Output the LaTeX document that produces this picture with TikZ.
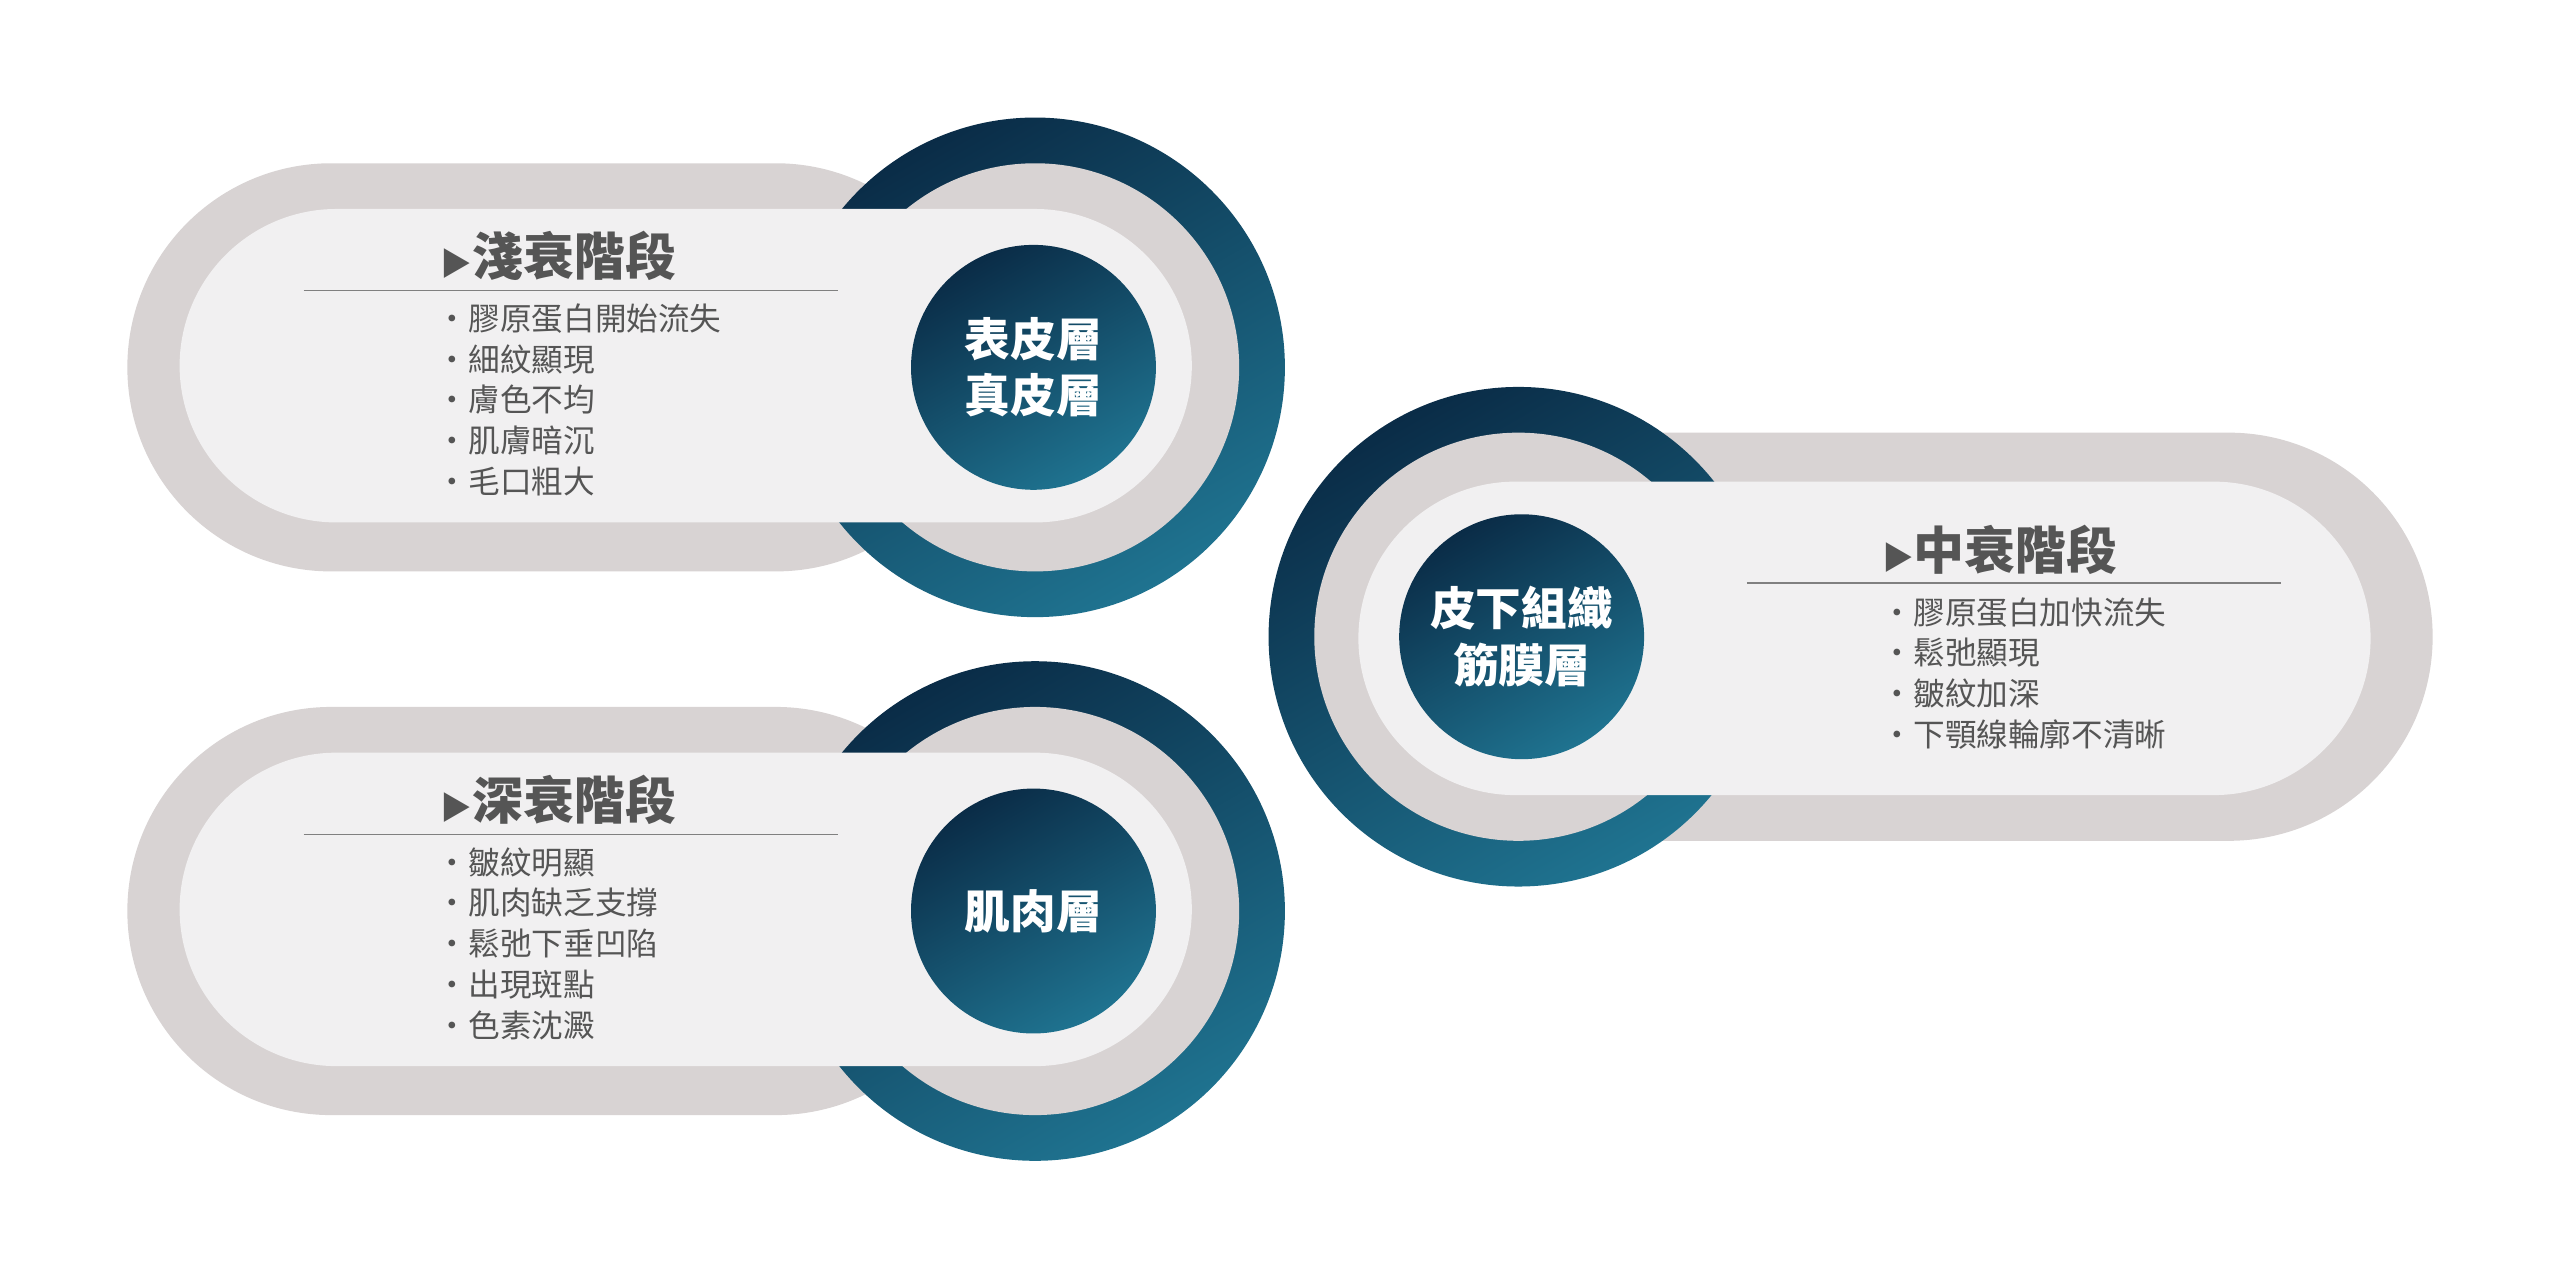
\documentclass[tikz,border=0pt]{standalone}
\usepackage{fontspec}
\setmainfont{Noto Sans CJK TC}
\definecolor{cardout}{HTML}{D8D3D3}
\definecolor{cardin}{HTML}{F1F0F1}
\definecolor{tealdark}{HTML}{0A2C47}
\definecolor{teallight}{HTML}{1F7390}
\definecolor{txt}{HTML}{555555}
\tikzset{
  outercard/.style={fill=cardout, rounded corners=2.04cm},
  innercard/.style={fill=cardin, rounded corners=1.57cm},
  ringshade/.style={shading=axis, top color=tealdark, bottom color=teallight, shading angle=30},
  coretext/.style={text=white, font=\bfseries\fontsize{13}{16}\selectfont, align=center},
  headtext/.style={text=txt, font=\bfseries\fontsize{14.5}{17}\selectfont},
  itemtext/.style={text=txt, font=\fontsize{9}{11}\selectfont, anchor=west}
}
\begin{document}
\begin{tikzpicture}[x=0.01633cm, y=-0.01633cm]
\useasboundingbox[fill=white] (0,0) rectangle (1568,782);
% left top panel
\fill[outercard] (78,100) rectangle (600,350);
\shade[ringshade] (634,225) circle (153);
\fill[cardout] (634,225) circle (125);
\fill[innercard] (110,128) rectangle (730,320);
\shade[ringshade] (633,225) circle (75);
\node[coretext] (core1) at (633,225) {表皮層\\真皮層};
\node[headtext] (head1) at (342,157) {{\small ▶}淺衰階段};
\draw[gray] (186,178) -- (513,178);
\foreach \t [count=\i] in {膠原蛋白開始流失, 細紋顯現, 膚色不均, 肌膚暗沉, 毛口粗大}
  \node[itemtext] (itemA\i) at (260,170+25*\i) {·\t};
% left bottom panel
\fill[outercard] (78,433) rectangle (600,683);
\shade[ringshade] (634,558) circle (153);
\fill[cardout] (634,558) circle (125);
\fill[innercard] (110,461) rectangle (730,653);
\shade[ringshade] (633,558) circle (75);
\node[coretext] (core3) at (633,558) {肌肉層};
\node[headtext] (head3) at (342,490) {{\small ▶}深衰階段};
\draw[gray] (186,511) -- (513,511);
\foreach \t [count=\i] in {皺紋明顯, 肌肉缺乏支撐, 鬆弛下垂凹陷, 出現斑點, 色素沈澱}
  \node[itemtext] (itemC\i) at (260,503+25*\i) {·\t};
% right panel
\fill[outercard] (860,265) rectangle (1490,515);
\shade[ringshade] (930,390) circle (153);
\fill[cardout] (930,390) circle (125);
\fill[innercard] (832,295) rectangle (1452,487);
\shade[ringshade] (932,390) circle (75);
\node[coretext] (core2) at (932,390) {皮下組織\\筋膜層};
\node[headtext] (head2) at (1225,337) {{\small ▶}中衰階段};
\draw[gray] (1070,357) -- (1397,357);
\foreach \t [count=\i] in {膠原蛋白加快流失, 鬆弛顯現, 皺紋加深, 下顎線輪廓不清晰}
  \node[itemtext] (itemB\i) at (1145,350+25*\i) {·\t};
\end{tikzpicture}
\end{document}
